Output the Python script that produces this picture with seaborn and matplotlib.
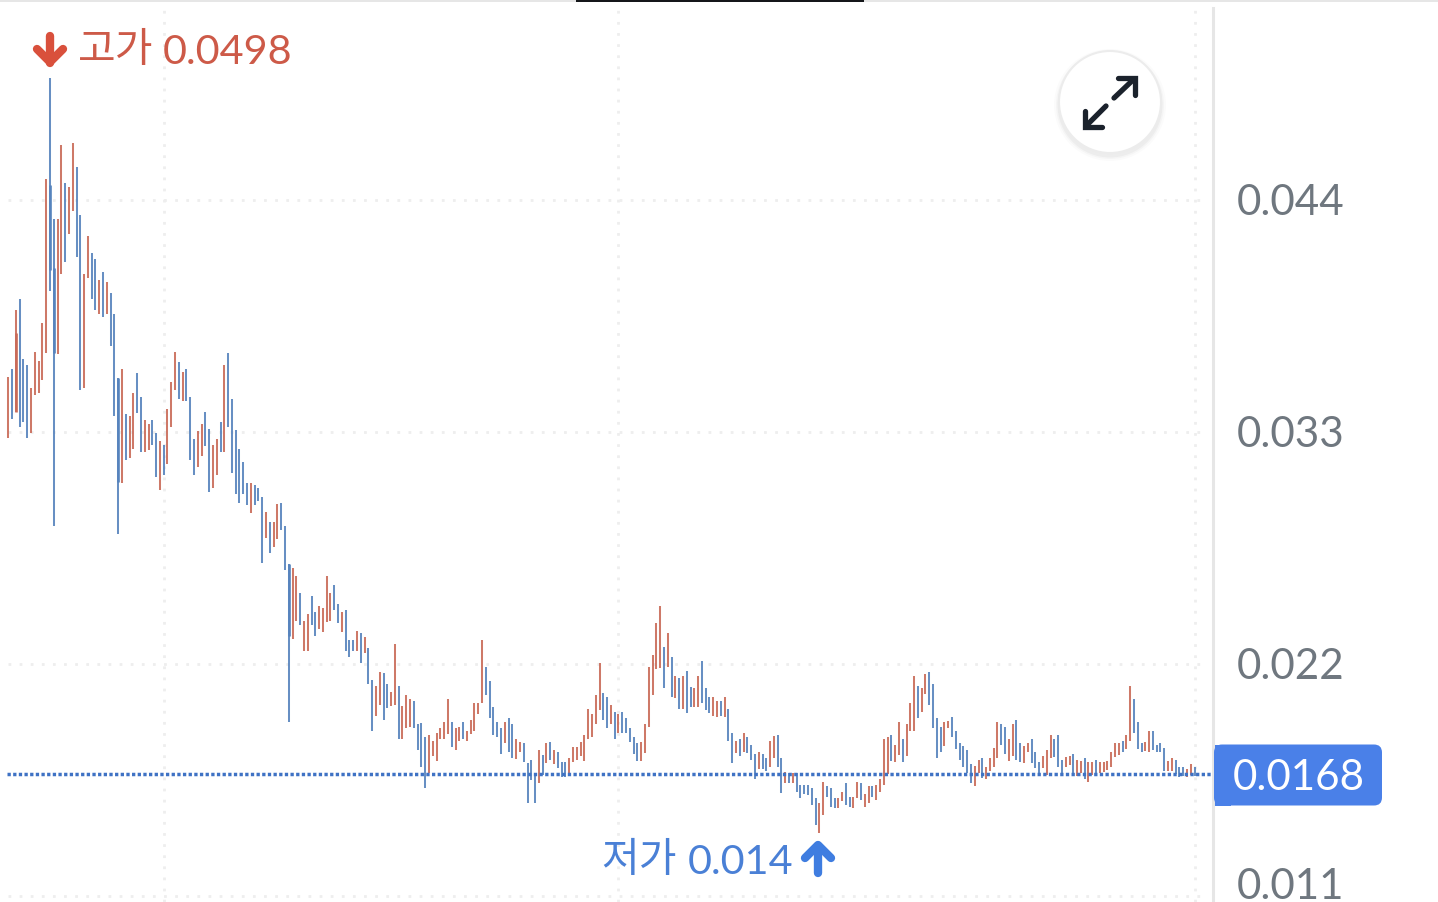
import numpy as np
import pandas as pd
import matplotlib
matplotlib.use("Agg")
import matplotlib.pyplot as plt
from matplotlib.patches import Circle, FancyBboxPatch, Rectangle
from matplotlib.transforms import ScaledTranslation
import seaborn as sns

# ===== DATA (prices in 1e-5 units) =====
PRICE_UNIT = 1e-5

HIGH = [
    3561, 3599, 3878, 3931, 3646, 3618, 3509, 3679, 3637, 3817,
    4500, 4980, 4310, 4310, 4661, 4481, 4462, 4670, 4557, 4329,
    4049, 4229, 4149, 4120, 4021, 4059, 4011, 3959, 3860, 3556,
    3599, 3385, 3376, 3485, 3580, 3466, 3357, 3338, 3357, 3295,
    3257, 3238, 3409, 3537, 3679, 3632, 3584, 3599, 3466, 3267,
    3305, 3338, 3395, 3314, 3238, 3267, 3347, 3618, 3675, 3456,
    3310, 3219, 3158, 3058, 3058, 3049, 3035, 2992, 2921, 2873,
    2873, 2959, 2963, 2854, 2674, 2655, 2617, 2537, 2404, 2437,
    2522, 2447, 2475, 2466, 2617, 2537, 2575, 2485, 2447, 2456,
    2314, 2314, 2356, 2347, 2328, 2276, 2124, 2096, 2162, 2157,
    2105, 2067, 2295, 2096, 2001, 2053, 2034, 2025, 1916, 1920,
    1854, 1863, 1835, 1873, 1897, 1925, 2034, 1925, 1897, 1901,
    1925, 1882, 1934, 2015, 2015, 2314, 2186, 2119, 1996, 1925,
    1897, 1925, 1944, 1916, 1844, 1830, 1825, 1731, 1745, 1683,
    1792, 1769, 1825, 1830, 1792, 1783, 1735, 1735, 1754, 1806,
    1806, 1830, 1863, 1987, 1963, 2053, 2205, 2062, 2044, 2006,
    1972, 1963, 1972, 1944, 1897, 1854, 1825, 1830, 1916, 2186,
    2243, 2394, 2475, 2281, 2347, 2233, 2143, 2134, 2143, 2167,
    2091, 2086, 2143, 2214, 2086, 2044, 2044, 2025, 2025, 2044,
    1987, 1873, 1835, 1844, 1873, 1854, 1816, 1773, 1783, 1773,
    1754, 1835, 1859, 1863, 1754, 1688, 1683, 1683, 1683, 1626,
    1626, 1626, 1612, 1565, 1541, 1640, 1622, 1612, 1565, 1565,
    1593, 1636, 1569, 1569, 1640, 1636, 1584, 1622, 1622, 1626,
    1655, 1844, 1854, 1863, 1816, 1925, 1844, 1916, 2015, 2143,
    2096, 2086, 2153, 2162, 2105, 1944, 1901, 1925, 1930, 1949,
    1882, 1825, 1811, 1792, 1726, 1716, 1745, 1754, 1712, 1754,
    1802, 1925, 1916, 1901, 1844, 1916, 1934, 1825, 1811, 1825,
    1844, 1783, 1735, 1764, 1792, 1863, 1844, 1863, 1745, 1759,
    1764, 1773, 1745, 1740, 1754, 1735, 1735, 1745, 1735, 1735,
    1740, 1783, 1825, 1825, 1835, 1863, 2096, 2034, 1925, 1825,
    1830, 1882, 1882, 1816, 1825, 1802, 1740, 1754, 1745, 1712,
    1712, 1702, 1726, 1712,
]

LOW = [
    3272, 3362, 3395, 3324, 3347, 3272, 3295, 3475, 3485, 3547,
    3675, 3969, 2854, 3670, 4049, 4106, 4239, 4348, 4130, 3499,
    3509, 4030, 3931, 3878, 3860, 3845, 3860, 3708, 3376, 2816,
    3058, 3167, 3177, 3219, 3390, 3205, 3205, 3215, 3238, 3087,
    3025, 3096, 3148, 3324, 3499, 3456, 3447, 3447, 3167, 3096,
    3134, 3186, 3234, 3016, 3035, 3096, 3205, 3205, 3324, 3106,
    3006, 2963, 3006, 2954, 2916, 2954, 2973, 2679, 2797, 2726,
    2755, 2793, 2835, 2646, 1925, 2319, 2404, 2385, 2262, 2262,
    2385, 2333, 2366, 2352, 2399, 2404, 2456, 2394, 2352, 2262,
    2233, 2262, 2262, 2205, 2252, 2105, 1882, 1953, 2006, 1934,
    1991, 2001, 2006, 1844, 1844, 1897, 1901, 1897, 1792, 1712,
    1612, 1683, 1764, 1740, 1844, 1844, 1868, 1806, 1792, 1835,
    1844, 1835, 1868, 1882, 1963, 2015, 2053, 1944, 1863, 1854,
    1773, 1825, 1783, 1754, 1750, 1783, 1735, 1541, 1650, 1541,
    1636, 1674, 1731, 1745, 1726, 1707, 1664, 1664, 1683, 1735,
    1745, 1764, 1740, 1844, 1854, 1916, 1982, 1934, 1897, 1916,
    1844, 1873, 1873, 1873, 1830, 1773, 1740, 1740, 1778, 1901,
    2053, 2176, 2181, 2086, 2186, 2044, 2039, 1987, 1987, 1968,
    1996, 1996, 1996, 2015, 1982, 1968, 1953, 1949, 1953, 1949,
    1835, 1731, 1778, 1764, 1783, 1778, 1745, 1655, 1702, 1702,
    1693, 1712, 1754, 1712, 1588, 1636, 1636, 1636, 1593, 1565,
    1584, 1579, 1531, 1437, 1400, 1484, 1569, 1522, 1517, 1517,
    1550, 1531, 1522, 1517, 1565, 1555, 1522, 1541, 1569, 1555,
    1593, 1626, 1678, 1740, 1735, 1769, 1735, 1764, 1882, 1882,
    1944, 1972, 2058, 2006, 1897, 1754, 1783, 1811, 1897, 1854,
    1797, 1745, 1712, 1683, 1636, 1622, 1683, 1660, 1655, 1693,
    1712, 1754, 1816, 1773, 1740, 1764, 1745, 1735, 1731, 1783,
    1731, 1707, 1683, 1707, 1674, 1754, 1759, 1712, 1674, 1712,
    1721, 1678, 1669, 1683, 1655, 1640, 1674, 1683, 1683, 1688,
    1697, 1712, 1759, 1769, 1783, 1797, 1835, 1873, 1797, 1783,
    1788, 1783, 1792, 1783, 1783, 1693, 1693, 1693, 1678, 1664,
    1669, 1664, 1674, 1669,
]

# R = up candle, B = down candle
DIRECTION = (
    "RBRBBBRRRR" "RBBRRBRRBB" "RRBBRBRBBB" "RBRRBBRRBB" "RBRRRBRBBB"
    "RRBBRRBRBB" "BBBBRBBBRB" "RRBBBRRBRR" "BBRRRRBBRB" "BBRBRBBRRB"
    "BRRBRRRBBB" "BRRRRRRBRR" "BRRRRRBBBB" "BRBBRRBBBB" "RBRBRBBBRR"
    "RRRRRRRBBR" "BRBBBBBRRR" "RRRBRBRBRB" "BRRBBBRRBR" "BBRBRBBBRB"
    "BRRBBRBRBB" "BBBBRRBBBR" "RBBRRBRRBR" "RRRBRRBRRR" "BRRBBBBRRB"
    "BBBBBRRBRR" "RRBBRRBBRR" "BBBRRRBBBR" "RBRRBRRBRR" "RRRRBRRBBB"
    "RRBBBBRRBB" "BRRB"
)

# bodies of the candles with long wicks
BODY_CANDLE = [2, 11, 12, 29, 74]
BODY_TOP = [3769, 4471, 4078, 3556, 2674]
BODY_BOTTOM = [3395, 4068, 3675, 3063, 2333]

Y_TICKS = [0.044, 0.033, 0.022, 0.011]
LAST_PRICE = 0.0168
GRID_CANDLES = [41, 161, 313]

# ===== PIXEL LAYOUT =====
W, H = 1438, 903
AXIS_X = 1213
CANDLE_X0 = 8.3
CANDLE_STEP = 3.79
PRICE_TOP = 0.05353    # price at the top edge of the picture
PRICE_BOTTOM = 0.01072  # price at the bottom edge

RED = "#c96a58"
BLUE = "#5683bd"
GRID = "#eeeeee"
FS_NUM = 30.3
FS_LABEL = 29.8
FS_KR = 29.5

sns.set_style("white")
plt.rcParams["font.family"] = ["Lato", "Noto Sans CJK KR", "DejaVu Sans"]
plt.rcParams["lines.solid_capstyle"] = "butt"

fig = plt.figure(figsize=(W / 100, H / 100), dpi=100, facecolor="white")
ax = fig.add_axes([0, 0, AXIS_X / W, 1])
ax.set_facecolor("white")
ax.set_xlim(-CANDLE_X0 / CANDLE_STEP, (AXIS_X - CANDLE_X0) / CANDLE_STEP)
ax.set_ylim(PRICE_BOTTOM, PRICE_TOP)

# ===== GRID =====
dotted = (0, (1, 3))
ax.hlines(Y_TICKS, 0, 315.5, color=GRID, lw=2, linestyle=dotted, zorder=1)
ax.vlines(GRID_CANDLES, PRICE_BOTTOM, 0.0530, color=GRID, lw=2, linestyle=dotted, zorder=1)

# ===== CANDLES =====
n = len(HIGH)
candle = np.arange(n)
dirs = np.array(list(DIRECTION))
wicks = pd.DataFrame({
    "candle": np.concatenate([candle, candle]),
    "price": np.concatenate([HIGH, LOW]) * PRICE_UNIT,
    "direction": np.concatenate([dirs, dirs]),
})
palette = {"R": RED, "B": BLUE}
sns.lineplot(data=wicks, x="candle", y="price", hue="direction", units="candle",
             estimator=None, palette=palette, legend=False, linewidth=1.45,
             alpha=0.9, ax=ax, zorder=3)

body_dirs = dirs[BODY_CANDLE]
bodies = pd.DataFrame({
    "candle": BODY_CANDLE + BODY_CANDLE,
    "price": np.array(BODY_TOP + BODY_BOTTOM) * PRICE_UNIT,
    "direction": np.concatenate([body_dirs, body_dirs]),
})
sns.lineplot(data=bodies, x="candle", y="price", hue="direction", units="candle",
             estimator=None, palette=palette, legend=False, linewidth=1.9,
             ax=ax, zorder=4)

# current price line
ax.hlines(LAST_PRICE, -0.3, ax.get_xlim()[1], color="#3f72c4", lw=2.5,
          linestyle=(0, (0.95, 0.68)), zorder=5)

# ===== AXES =====
for side in ["top", "left", "bottom"]:
    ax.spines[side].set_visible(False)
ax.spines["right"].set_color("#e6e6e6")
ax.spines["right"].set_linewidth(2.2)
ax.spines["right"].set_bounds(PRICE_BOTTOM, PRICE_TOP - 9 * (PRICE_TOP - PRICE_BOTTOM) / H)
ax.set_xlabel("")
ax.set_ylabel("")
ax.set_xticks([])
ax.yaxis.tick_right()
ax.set_yticks(Y_TICKS)
ax.set_yticklabels(["0.044", "0.033", "0.022", ""])
ax.tick_params(axis="y", length=0, pad=17, labelsize=FS_NUM, labelcolor="#6f777f")
# tick labels sit a little above their grid lines
up = ScaledTranslation(0, 2 / 100, fig.dpi_scale_trans)
for label in ax.get_yticklabels():
    label.set_transform(label.get_transform() + up)
# the lowest label is pushed up to stay on screen
ax.annotate("0.011", xy=(1, Y_TICKS[3]), xycoords=("axes fraction", "data"),
            xytext=(17, 7.5), textcoords="offset points", ha="left", va="center",
            fontsize=FS_NUM, color="#6f777f", annotation_clip=False)

# ===== OVERLAY (labels, badge, button) =====
deco = fig.add_axes([0, 0, 1, 1], facecolor="none")
deco.set_xlim(0, W)
deco.set_ylim(H, 0)
deco.axis("off")

# top bar
deco.add_patch(Rectangle((0, 0), W, 2.5, color="#e6e6e6", lw=0))
deco.add_patch(Rectangle((576, 0), 288, 2.5, color="#15171a", lw=0))

HIGH_RED = "#cd5a48"
LOW_BLUE = "#4a80d6"
deco.text(78, 50.5, "고가", color=HIGH_RED, fontsize=FS_KR, ha="left", va="center")
deco.text(292.5, 49, f"{max(HIGH) * PRICE_UNIT:.4f}", color=HIGH_RED, fontsize=FS_LABEL,
          ha="right", va="center_baseline")
deco.text(601, 860.5, "저가", color=LOW_BLUE, fontsize=FS_KR, ha="left", va="center")
deco.text(793, 859, f"{min(LOW) * PRICE_UNIT:.3f}", color=LOW_BLUE, fontsize=FS_LABEL,
          ha="right", va="center_baseline")

arrow_kw = dict(lw=6.0, solid_capstyle="round", solid_joinstyle="round")
deco.plot([50, 50], [37, 64], color="#d9503c", **arrow_kw)
deco.plot([37, 50, 63], [50, 63, 50], color="#d9503c", **arrow_kw)
deco.plot([818, 818], [874, 847], color="#3f7de0", **arrow_kw)
deco.plot([805, 818, 831], [859, 846, 859], color="#3f7de0", **arrow_kw)

# last price badge
BADGE = "#4a80e8"
deco.add_patch(FancyBboxPatch((1222, 753.5), 152, 45, boxstyle="round,pad=8,rounding_size=8",
                              fc=BADGE, ec="none"))
deco.add_patch(Rectangle((1214.5, 745.5), 16, 61, fc=BADGE, ec="none"))
deco.text(1298.5, 775, f"{LAST_PRICE:.4f}", color="white", fontsize=FS_NUM, ha="center",
          va="center_baseline")

# expand button
for r, a in [(56, 0.015), (54, 0.025), (52.5, 0.03)]:
    deco.add_patch(Circle((1110, 106), r, fc="black", ec="none", alpha=a))
deco.add_patch(Circle((1110, 103), 51, fc="white", ec="#ececec", lw=1.5))
icon_kw = dict(color="#1b222c", lw=3.8, solid_capstyle="round", solid_joinstyle="miter")
deco.plot([1114, 1134], [99, 80], **icon_kw)
deco.plot([1118, 1135, 1135], [79, 79, 96], **icon_kw)
deco.plot([1106, 1087], [107, 126], **icon_kw)
deco.plot([1085, 1085, 1102], [112, 128, 128], **icon_kw)

fig.savefig("out.png", dpi=100, facecolor="white")
